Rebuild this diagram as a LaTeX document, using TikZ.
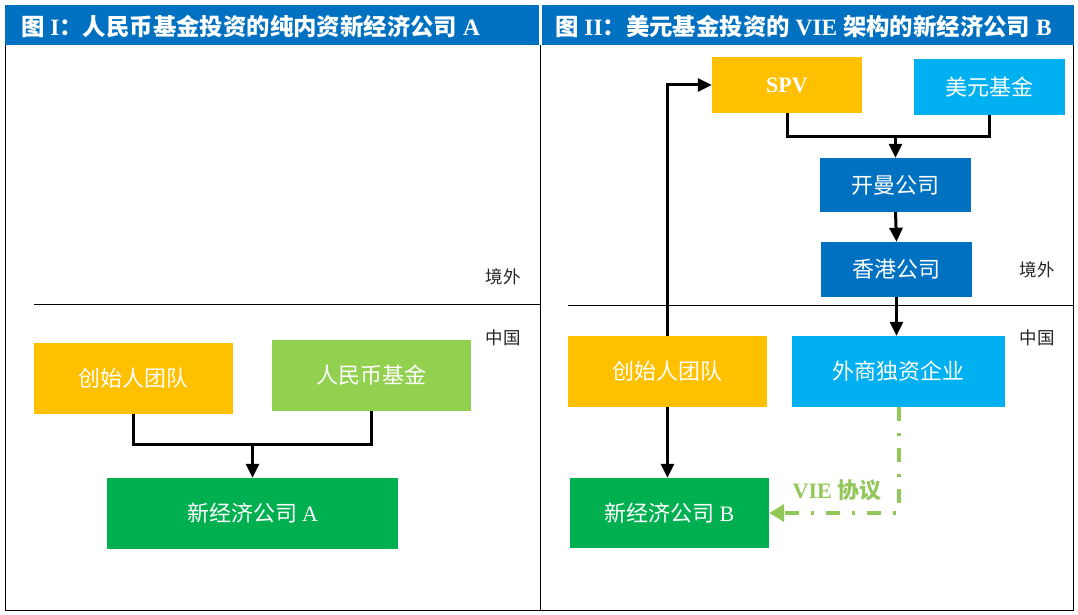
\documentclass[tikz,border=0pt]{standalone}
\usepackage{fontspec}
\setmainfont{Liberation Serif}
\newfontfamily\cjk{Noto Sans CJK SC}
\newcommand{\zhtext}[1]{{\cjk #1}}
\usetikzlibrary{arrows.meta}
\definecolor{hdr}{RGB}{0,112,192}
\definecolor{cyellow}{RGB}{255,192,0}
\definecolor{clime}{RGB}{146,208,80}
\definecolor{cgreen}{RGB}{0,176,80}
\definecolor{ccyan}{RGB}{0,176,240}
\definecolor{cblue}{RGB}{0,112,192}
\definecolor{vieg}{RGB}{146,200,90}
\begin{document}
\begin{tikzpicture}[x=1pt,y=-1pt,
  box/.style={rectangle, inner sep=0pt, text=white, font=\fontsize{22}{26}\selectfont\cjk},
  frameline/.style={line width=1pt, draw=black},
  conn/.style={line width=3pt, draw=black},
  arr/.style={conn, -{Triangle[width=13pt,length=14pt]}},
  vie/.style={line width=4pt, draw=vieg, dash pattern=on 14pt off 12pt on 3pt off 12pt, -{Triangle[width=17pt,length=15pt]}},
  lbl/.style={inner sep=0pt, text=black!85, font=\fontsize{17.5}{20}\selectfont\cjk},
  title/.style={inner sep=0pt, anchor=west, text=white, font=\fontsize{23.4}{27}\selectfont\bfseries}
]
\useasboundingbox (0,0) rectangle (1078,615);
\fill[white] (0,0) rectangle (1078,615);
% headers
\fill[hdr] (5,5) rectangle (538.5,45.5);
\fill[hdr] (541.5,5) rectangle (1074,45.5);
\node[title] (t1) at (21,27) {\zhtext{图} I\zhtext{：人民币基金投资的纯内资新经济公司} A};
\node[title] (t2) at (555,27) {\zhtext{图} II\zhtext{：美元基金投资的} VIE \zhtext{架构的新经济公司} B};
% frame
\draw[frameline] (5.5,45.5) -- (5.5,610) -- (1073,610) -- (1073,45.5);
\draw[frameline] (540,45.5) -- (540,610);
\draw[frameline] (34,304) -- (540,304);
\draw[frameline] (568,305) -- (1073,305);
% region labels
\node[lbl] (o1) at (503,277) {境外};
\node[lbl] (c1) at (503,338) {中国};
\node[lbl] (o2) at (1037,270) {境外};
\node[lbl] (c2) at (1037,338) {中国};
% left panel
\node[box, fill=cyellow, minimum width=199pt, minimum height=71pt] (fA) at (133.5,378.5) {创始人团队};
\node[box, fill=clime, minimum width=199pt, minimum height=71pt] (rmb) at (371.5,375.5) {人民币基金};
\node[box, fill=cgreen, minimum width=291pt, minimum height=71pt] (nA) at (252.5,513.5) {新经济公司 {\rmfamily A}};
\coordinate (jA) at (252.5,444);
\draw[conn] (fA.south) -- (fA.south |- jA) -| (rmb.south);
\draw[arr] (jA) -- (nA.north);
% right panel
\node[box, fill=cyellow, minimum width=150pt, minimum height=56pt] (spv) at (787,85) {\rmfamily\bfseries SPV};
\node[box, fill=ccyan, minimum width=151pt, minimum height=56pt] (usd) at (989.5,87) {美元基金};
\node[box, fill=cblue, minimum width=151pt, minimum height=54pt] (km) at (895.5,185) {开曼公司};
\node[box, fill=cblue, minimum width=151pt, minimum height=55pt] (hk) at (896.5,269.5) {香港公司};
\node[box, fill=cyellow, minimum width=199pt, minimum height=71pt] (fB) at (667.5,371.5) {创始人团队};
\node[box, fill=ccyan, minimum width=213pt, minimum height=71pt] (wf) at (898.5,371.5) {外商独资企业};
\node[box, fill=cgreen, minimum width=199pt, minimum height=70pt] (nB) at (669.5,513) {新经济公司 {\rmfamily B}};
\coordinate (jB) at (895.5,136);
\draw[conn] (spv.south) -- (spv.south |- jB) -| (usd.south);
\draw[arr] (jB) -- (km.north);
\draw[arr] (km.south) -- (hk.north);
\draw[arr] (hk.south) -- (hk.south |- wf.north);
\draw[arr] (fB.north) |- (spv.west);
\draw[arr] (fB.south) -- (fB.south |- nB.north);
\draw[vie] (wf.south) |- (nB.east);
\node[inner sep=0pt, text=vieg, font=\fontsize{22}{26}\selectfont\bfseries] (vl) at (837,490) {VIE \zhtext{协议}};
\end{tikzpicture}
\end{document}
